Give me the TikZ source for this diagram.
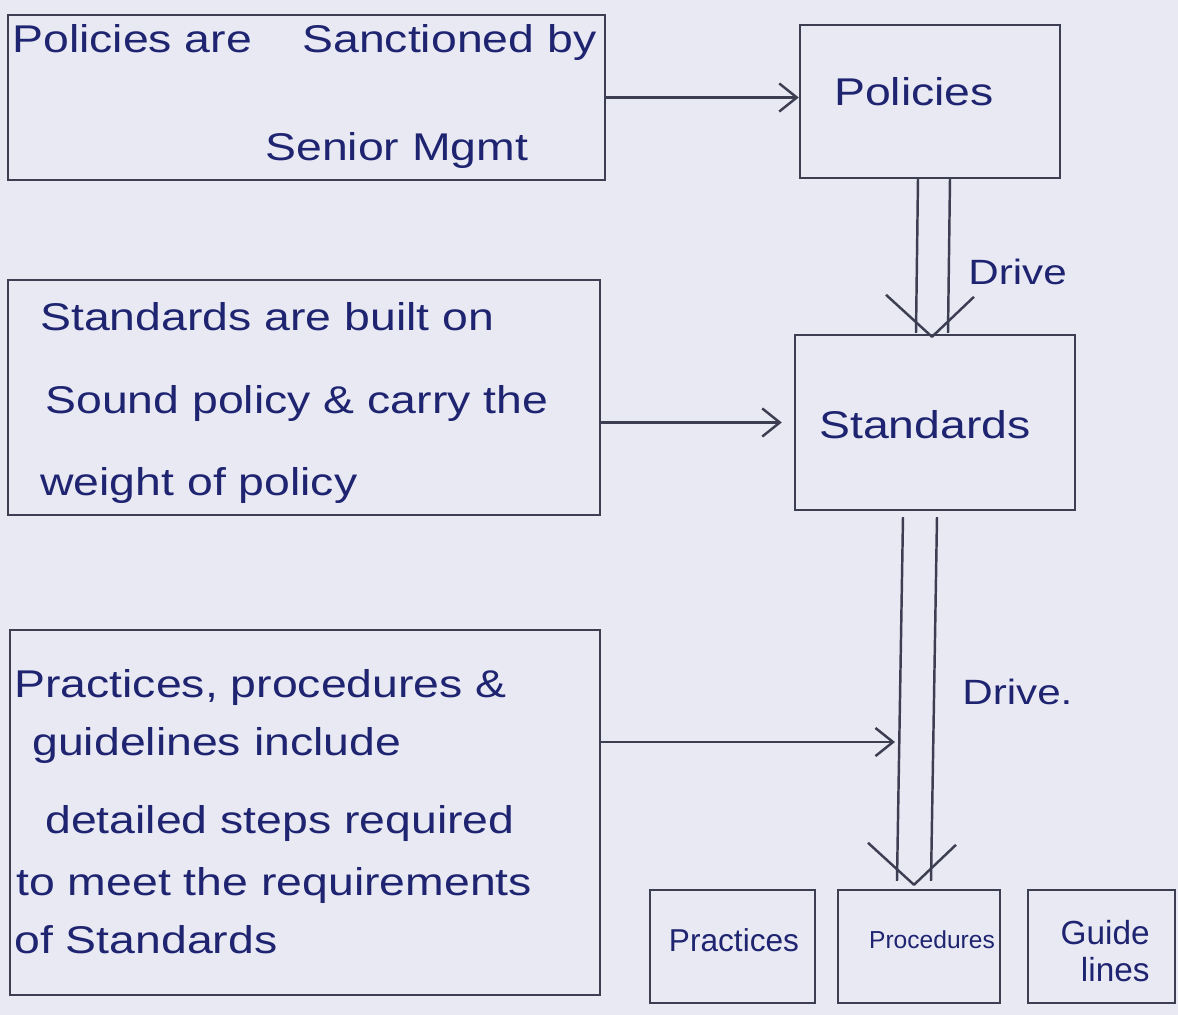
\documentclass[tikz,border=0pt]{standalone}
\usepackage{fontspec}
\setmainfont{Liberation Sans}
\newfontfamily\handfont[FakeStretch=1.2]{Liberation Sans}
\usetikzlibrary{arrows.meta,calc}
\definecolor{paper}{HTML}{E9E9F4}
\definecolor{pencil}{HTML}{3E3E52}
\definecolor{ink}{HTML}{1E2470}
\tikzset{
  pencil/.style={draw=pencil, line width=1.4pt},
  box/.style={pencil, rectangle, inner sep=0pt},
  note/.style={text=ink, font=\handfont\fontsize{22}{25}\selectfont, inner sep=0pt, anchor=base west},
  label/.style={text=ink, font=\handfont\fontsize{22}{25}\selectfont, inner sep=0pt},
  feed/.style={pencil, -{Straight Barb[length=10pt,width=16pt]}},
}
% hollow "drive" arrow: #1 top point, #2 tip point, #3 half shaft width
\newcommand\drivearrow[3]{%
  \draw[pencil] ($(#1)+(-#3,0)$) -- ($(#2)+(-#3,-4)$);
  \draw[pencil] ($(#1)+(#3,0)$) -- ($(#2)+(#3,-4)$);
  \draw[pencil, line join=round] ($(#2)+(-46,-42)$) -- (#2) -- ($(#2)+(42,-40)$);
}
\begin{document}
\begin{tikzpicture}[x=0.02cm, y=-0.02cm]
  \fill[paper] (0,0) rectangle (1178,1015);
  \useasboundingbox (0,0) rectangle (1178,1015);

  % left-hand explanation boxes
  \node[box, minimum width=11.94cm, minimum height=3.3cm] (b1) at (306.5,97.5) {};
  \node[box, minimum width=11.84cm, minimum height=4.7cm] (b2) at (304,397.5) {};
  \node[box, minimum width=11.8cm, minimum height=7.3cm] (b3) at (305,812.5) {};

  % right-hand hierarchy
  \node[box, minimum width=5.2cm, minimum height=3.06cm] (pol) at (930,101.5) {};
  \node[box, minimum width=5.6cm, minimum height=3.5cm] (std) at (935,422.5) {};
  \node[box, minimum width=3.3cm, minimum height=2.26cm] (pra) at (732.5,946.5) {};
  \node[box, minimum width=3.24cm, minimum height=2.26cm] (pro) at (919,946.5) {};
  \node[box, minimum width=2.94cm, minimum height=2.26cm] (gui) at (1101.5,946.5) {};

  \node[label] (polt) at (914,92) {Policies};
  \node[label] (stdt) at (925,425) {Standards};
  \node[label, font=\fontsize{18}{20}\selectfont] (prat) at (734,940) {Practices};
  \node[label, font=\fontsize{14}{16}\selectfont] (prot) at (932,940) {Procedures};
  \node[label, align=right, font=\fontsize{19}{21}\selectfont, anchor=north east] (guit) at (1150,920) {Guide\\lines};

  % notes
  \node[note] (n1a) at (12,52) {Policies are};
  \node[note] (n1b) at (302,52) {Sanctioned by};
  \node[note] (n1c) at (265,160) {Senior Mgmt};

  \node[note] (n2a) at (40,330) {Standards are built on};
  \node[note] (n2b) at (45,413) {Sound policy \& carry the};
  \node[note] (n2c) at (40,495) {weight of policy};

  \node[note] (n3a) at (14,697) {Practices, procedures \&};
  \node[note] (n3b) at (32,755) {guidelines include};
  \node[note] (n3c) at (45,833) {detailed steps required};
  \node[note] (n3d) at (16,895) {to meet the requirements};
  \node[note] (n3e) at (14,953) {of Standards};

  % drive arrows
  \coordinate (d1top) at ($(pol.south)+(4,0)$);
  \coordinate (d1tip) at ($(std.north)+(-3,3)$);
  \drivearrow{d1top}{d1tip}{16}
  \node[label, anchor=west, font=\handfont\fontsize{20}{22}\selectfont] (drive1) at (968,272) {Drive};

  \coordinate (d2top) at ($(std.south)+(-15,6)$);
  \coordinate (d2tip) at ($(pro.north)+(-5,-4)$);
  \drivearrow{d2top}{d2tip}{17}
  \node[label, anchor=west, font=\handfont\fontsize{20}{22}\selectfont] (drive2) at (962,692) {Drive.};

  % notes feeding the hierarchy
  \coordinate (hit) at (895,742);
  \draw[feed] (b1.east) -- (b1.east -| pol.west);
  \draw[feed] (b2.east |- std.west) -- ($(std.west)+(-12,0)$);
  \draw[feed] (b3.east |- hit) -- (hit);
\end{tikzpicture}
\end{document}
